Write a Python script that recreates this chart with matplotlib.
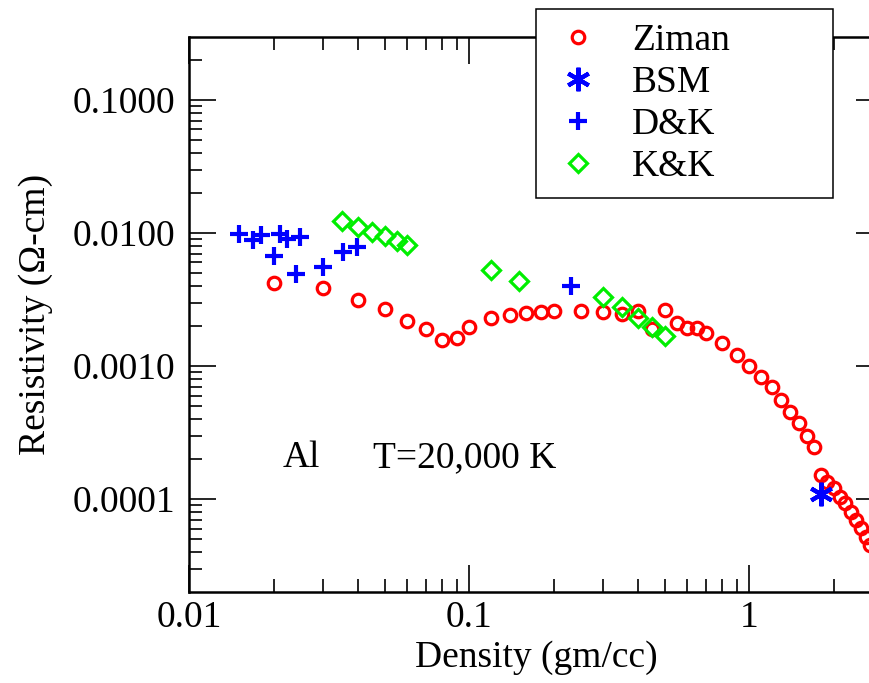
import numpy as np
import matplotlib
matplotlib.use("Agg")
import matplotlib.pyplot as plt
from matplotlib.ticker import LogLocator, NullFormatter

# Graph parameters.
plt.rcParams['font.family'] = ['Liberation Serif', 'DejaVu Serif']
plt.rcParams['font.size'] = 27
plt.rcParams['xtick.direction'] = 'in'
plt.rcParams['ytick.direction'] = 'in'
plt.rcParams['axes.linewidth'] = 1.8

# Ziman resistivity vs density.
ziman_density = [0.02, 0.03, 0.04, 0.05, 0.06, 0.07, 0.08, 0.09, 0.10, 0.12,
                 0.14, 0.16, 0.18, 0.20, 0.25, 0.30, 0.35, 0.40, 0.45, 0.50,
                 0.55, 0.60, 0.65, 0.70, 0.80, 0.90, 1.00, 1.10, 1.20, 1.30,
                 1.40, 1.50, 1.60, 1.70, 1.80, 1.90, 2.00, 2.10, 2.20, 2.30,
                 2.40, 2.50, 2.60, 2.70]
ziman_rho = [4.19e-3, 3.84e-3, 3.13e-3, 2.68e-3, 2.19e-3, 1.89e-3, 1.57e-3, 1.61e-3, 1.95e-3, 2.29e-3,
             2.42e-3, 2.52e-3, 2.56e-3, 2.61e-3, 2.61e-3, 2.56e-3, 2.46e-3, 2.61e-3, 1.89e-3, 2.64e-3,
             2.12e-3, 1.92e-3, 1.92e-3, 1.76e-3, 1.48e-3, 1.21e-3, 1.00e-3, 8.3e-4, 6.9e-4, 5.55e-4,
             4.53e-4, 3.71e-4, 2.98e-4, 2.45e-4, 1.51e-4, 1.35e-4, 1.20e-4, 1.04e-4, 9.29e-5, 8.03e-5,
             6.95e-5, 6.02e-5, 5.21e-5, 4.51e-5]

# BSM point.
bsm_density = [1.80]
bsm_rho = [1.09e-4]

# D&K points.
dk_density = [0.0150, 0.0169, 0.0181, 0.0211, 0.0223, 0.0249, 0.0201, 0.0240,
              0.0301, 0.0353, 0.0398, 0.230]
dk_rho = [9.9e-3, 8.86e-3, 9.66e-3, 9.9e-3, 8.98e-3, 9.29e-3, 6.71e-3, 4.92e-3,
          5.52e-3, 7.23e-3, 7.89e-3, 4.0e-3]

# K&K points.
kk_density = [0.035, 0.040, 0.045, 0.050, 0.055, 0.060, 0.12, 0.15, 0.30, 0.35,
              0.40, 0.45, 0.50]
kk_rho = [1.238e-2, 1.115e-2, 1.023e-2, 9.49e-3, 8.75e-3, 8.12e-3, 5.27e-3, 4.38e-3,
          3.29e-3, 2.79e-3, 2.29e-3, 1.97e-3, 1.68e-3]

x_ticks = [0.01, 0.1, 1]
x_tick_labels = ["0.01", "0.1", "1"]
y_ticks = [0.1, 0.01, 0.001, 0.0001]
y_tick_labels = ["0.1000", "0.0100", "0.0010", "0.0001"]

fig = plt.figure(figsize=(8.69, 6.83), dpi=100)
ax = fig.add_axes([0.2178, 0.1337, 0.7983, 0.8117])

ax.plot(ziman_density, ziman_rho, ls='none', marker='o', ms=9, mew=2.3,
        mfc='none', mec='#ff0000', label='Ziman')
ax.plot(bsm_density, bsm_rho, ls='none', marker=(6, 2, 0), ms=17, mew=3,
        color='#0000ff', label='BSM')
ax.plot(dk_density, dk_rho, ls='none', marker='+', ms=13, mew=3,
        color='#0000ff', label='D&K')
ax.plot(kk_density, kk_rho, ls='none', marker='D', ms=9, mew=2.3,
        mfc='none', mec='#00ee00', label='K&K')

ax.set_xscale('log')
ax.set_yscale('log')
ax.set_xlim(0.01, 3.0)
ax.set_ylim(2.01e-5, 0.296)

ax.set_xticks(x_ticks, x_tick_labels)
ax.set_yticks(y_ticks, y_tick_labels)
ax.xaxis.set_minor_locator(LogLocator(subs=np.arange(2, 10)))
ax.yaxis.set_minor_locator(LogLocator(subs=np.arange(2, 10)))
ax.xaxis.set_minor_formatter(NullFormatter())
ax.yaxis.set_minor_formatter(NullFormatter())
ax.tick_params(which='both', top=True, right=True, width=1.2)
ax.tick_params(which='major', length=19.5)
ax.tick_params(which='minor', length=9.5)
ax.tick_params(axis='x', which='major', pad=6)
ax.tick_params(axis='y', which='major', pad=10)

ax.set_xlabel('Density (gm/cc)', labelpad=4)
ax.set_ylabel('Resistivity (Ω-cm)', labelpad=14)

ax.text(0.0216, 1.74e-4, 'Al', va='baseline', ha='left')
ax.text(0.0453, 1.74e-4, 'T=20,000 K', va='baseline', ha='left')

# Legend sits on top of the upper spine.
fig.legend(loc='upper left', bbox_to_anchor=(0.6168, 0.5, 0.3418, 0.4864),
           bbox_transform=fig.transFigure, mode='expand', borderaxespad=0,
           fancybox=False, framealpha=1, edgecolor='black',
           handlelength=1.5, handletextpad=0.7, borderpad=0.37,
           labelspacing=0.2, markerscale=1.0)
fig.legends[0].get_frame().set_linewidth(1.1)

fig.savefig('out.png', dpi=100)
plt.close()
